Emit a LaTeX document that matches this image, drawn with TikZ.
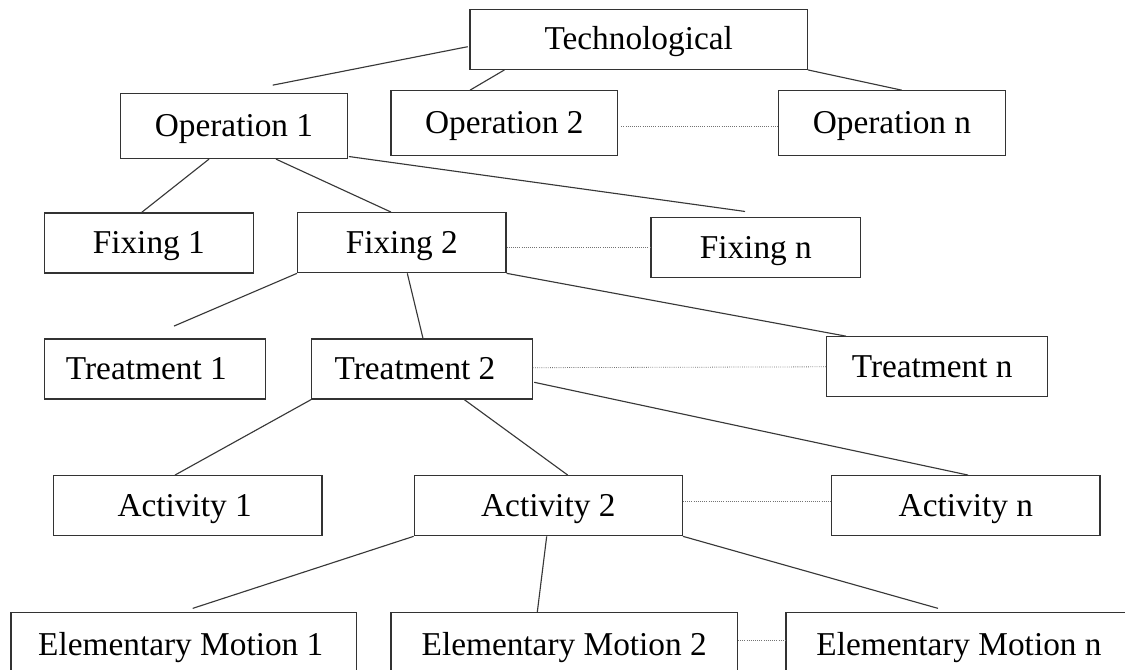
\documentclass[tikz,border=0pt]{standalone}
\usepackage{fontspec}
\setmainfont{Liberation Serif}
\usetikzlibrary{calc}
\begin{document}
\begin{tikzpicture}[x=0.75pt,y=-0.75pt,
  box/.style={draw=black!80, line width=0.95pt, fill=white, inner sep=0pt,
    minimum height=45pt, text height=17pt, text depth=1pt,
    font=\fontsize{25}{30}\selectfont},
  bw/.style={minimum width=#1*0.75pt},
  tall/.style={minimum height=65*0.75pt},
  link/.style={draw=black!78, line width=0.85pt},
  chain/.style={draw=black!55, line width=0.6pt, densely dotted}]

\useasboundingbox (0,0) rectangle (1125,670);
\clip (0,0) rectangle (1125,670);

% level 0
\node[box, bw=337.3] (tech) at (638.7,39.3) {Technological};
% operations
\node[box, tall, bw=226.6] (op1) at (234,126)     {Operation 1};
\node[box, tall, bw=226.7] (op2) at (504.3,123.3) {Operation 2};
\node[box, tall, bw=227.4] (opn) at (892,123.3)   {Operation n};
% fixings
\node[box, bw=209]   (fx1) at (148.8,243)   {Fixing 1};
\node[box, bw=208.3] (fx2) at (401.8,242.7) {Fixing 2};
\node[box, bw=209.7] (fxn) at (755.8,247.5) {Fixing n};
% treatments (labels sit a little left of centre)
\node[box, bw=221.4] (tr1) at (155,369)     {\hspace*{-13pt}Treatment 1};
\node[box, bw=220.6] (tr2) at (422,369)     {\hspace*{-10.5pt}Treatment 2};
\node[box, bw=221]   (trn) at (937.2,366.8) {\hspace*{-7.5pt}Treatment n};
% activities
\node[box, bw=268.7] (ac1) at (187.7,505.7) {\hspace*{-4.5pt}Activity 1};
\node[box, bw=268]   (ac2) at (548.3,505.7) {Activity 2};
\node[box, bw=268.3] (acn) at (965.8,505.7) {Activity n};
% elementary motions (boxes run past the lower edge)
\node[box, tall, bw=345.7] (em1) at (183.8,645.2) {\hspace*{-4.5pt}Elementary Motion 1};
\node[box, tall, bw=346.3] (em2) at (564.2,645.2) {Elementary Motion 2};
\node[box, tall, bw=346]   (emn) at (959,645.2)   {Elementary Motion n};

% hierarchy links
\draw[link] ($(tech.west)+(-1.7,7.4)$) -- ($(op1.north)+(38.7,-7.7)$);
\draw[link] ($(tech.south west)+(35,0)$) -- ($(op2.north)+(-34.3,0)$);
\draw[link] (tech.south east) -- ($(opn.north)+(9.7,0)$);

\draw[link] ($(op1.south)+(-25,0)$) -- ($(fx1.north)+(-7.1,0)$);
\draw[link] ($(op1.south)+(42,0)$) -- ($(fx2.north)+(-10.8,0)$);
\draw[link] ($(op1.south east)+(1,-2.6)$) -- ($(fxn.north)+(-10.8,-5.4)$);

\draw[link] (fx2.south west) -- ($(tr1.north)+(19,-12.3)$);
\draw[link] ($(fx2.south)+(5.5,0)$) -- ($(tr2.north)+(1,0)$);
\draw[link] (fx2.south east) -- ($(trn.north west)+(20,0)$);

\draw[link] (tr2.south west) -- ($(ac1.north)+(-12.7,0)$);
\draw[link] ($(tr2.south)+(42.3,0)$) -- ($(ac2.north)+(19.4,0)$);
\draw[link] ($(tr2.east)+(1.3,13.3)$) -- ($(acn.north)+(2.2,0)$);

\draw[link] (ac2.south west) -- ($(em1.north)+(8.9,-3.7)$);
\draw[link] ($(ac2.south)+(-1.6,0)$) -- ($(em2.north)+(-26.9,0)$);
\draw[link] (ac2.south east) -- ($(emn.north)+(-21,-3.7)$);

% sibling chains
\draw[chain] ($(op2.east)+(3,3.4)$) -- ($(opn.west)+(0,3.4)$);
\draw[chain] (fx2.east |- fxn.west) -- (fxn.west);
\draw[chain] ($(tr2.east)+(0,-1.3)$) -- (trn.west);
\draw[chain] ($(ac2.east)+(0,-4.7)$) -- ($(acn.west)+(0,-4.7)$);
\draw[chain] ($(em2.north east)+(0,28.3)$) -- ($(emn.north west)+(0,28.3)$);
\end{tikzpicture}
\end{document}
